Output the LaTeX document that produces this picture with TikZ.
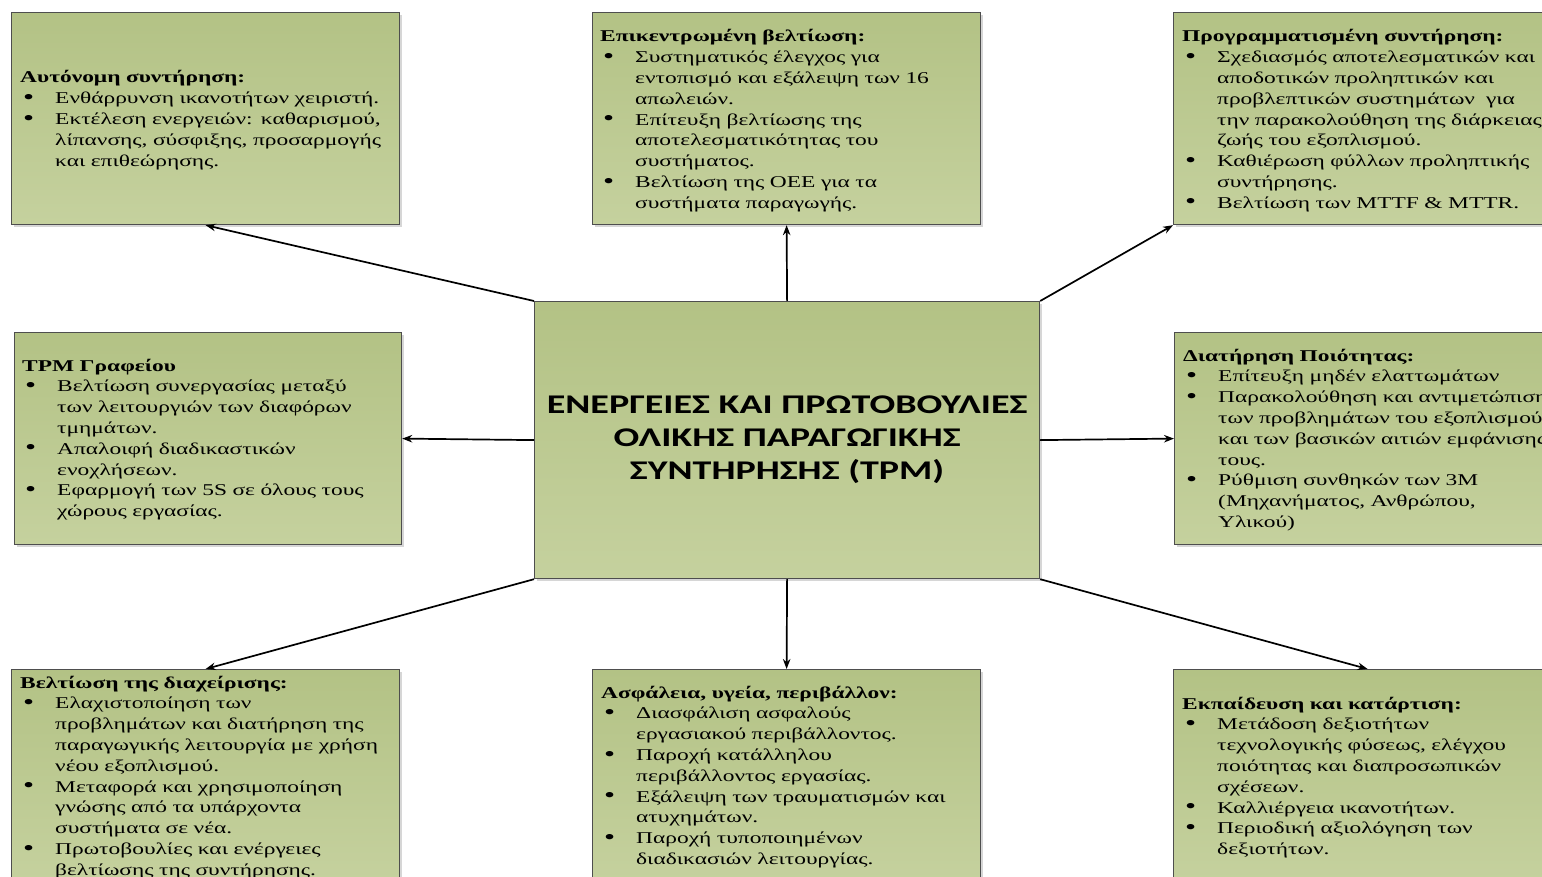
\documentclass[tikz,border=0pt]{standalone}
\usepackage{fontspec}
\setmainfont{Liberation Serif}[FakeStretch=1.42]
\newfontfamily\headfont{Carlito}[FakeStretch=1.41]
\usetikzlibrary{arrows.meta,shadows}

\definecolor{boxtop}{RGB}{179,194,133}
\definecolor{boxbot}{RGB}{197,209,158}
\definecolor{edge}{RGB}{78,78,78}

% list helpers: heading, bulleted line, continuation line
\newcommand\hd[1]{\textbf{#1}\par}
\newcommand\bu[1]{\makebox[35pt][l]{\hspace{3pt}\raisebox{-0.6pt}{\scalebox{1.35}{\textbullet}}}#1\par}
\newcommand\ct[1]{\hspace*{35pt}#1\par}

\tikzset{
  panel/.style={draw=edge, line width=1.2pt, top color=boxtop, bottom color=boxbot,
    anchor=north west, inner sep=0pt,
    drop shadow={shadow xshift=2.5pt, shadow yshift=-2.5pt, fill=black!35, opacity=0.45}},
  side/.style={panel, minimum width=388pt, minimum height=212pt},
  txt/.style={anchor=base west, inner sep=0pt, text width=600pt, align=left,
    font=\fontsize{16.5}{20.8}\selectfont},
  arr/.style={-{Stealth[length=10pt,width=7.5pt]}, line width=1.7pt, black}
}

\begin{document}
\begin{tikzpicture}[x=1pt,y=-1pt]
\clip (0,0) rectangle (1542,877);
\fill[white] (0,0) rectangle (1542,877);

% surrounding boxes
\node[side] (tl) at (11,12) {};
\node[side] (tc) at (592,12) {};
\node[side] (tr) at (1173,12) {};
\node[side, minimum width=387pt] (ml) at (14,332) {};
\node[side] (mr) at (1174,332) {};
\node[side] (bl) at (11,669) {};
\node[side] (bc) at (592,669) {};
\node[side] (br) at (1173,669) {};

% central box
\node[panel, minimum width=505pt, minimum height=277pt, align=center,
      font=\headfont\bfseries\fontsize{27}{33}\selectfont] (c) at (534,301)
  {ΕΝΕΡΓΕΙΕΣ ΚΑΙ ΠΡΩΤΟΒΟΥΛΙΕΣ\\ΟΛΙΚΗΣ ΠΑΡΑΓΩΓΙΚΗΣ\\ΣΥΝΤΗΡΗΣΗΣ (TPM)};

% box texts
\node[txt] (tlt) at (20,83) {%
\hd{Αυτόνομη συντήρηση:}
\bu{Ενθάρρυνση ικανοτήτων χειριστή.}
\bu{Εκτέλεση ενεργειών: καθαρισμού,}
\ct{λίπανσης, σύσφιξης, προσαρμογής}
\ct{και επιθεώρησης.}};

\node[txt] (tct) at (600,42) {%
\hd{Επικεντρωμένη βελτίωση:}
\bu{Συστηματικός έλεγχος για}
\ct{εντοπισμό και εξάλειψη των 16}
\ct{απωλειών.}
\bu{Επίτευξη βελτίωσης της}
\ct{αποτελεσματικότητας του}
\ct{συστήματος.}
\bu{Βελτίωση της ΟΕΕ για τα}
\ct{συστήματα παραγωγής.}};

\node[txt] (trt) at (1182,42) {%
\hd{Προγραμματισμένη συντήρηση:}
\bu{Σχεδιασμός αποτελεσματικών και}
\ct{αποδοτικών προληπτικών και}
\ct{προβλεπτικών συστημάτων\ \ για}
\ct{την παρακολούθηση της διάρκειας}
\ct{ζωής του εξοπλισμού.}
\bu{Καθιέρωση φύλλων προληπτικής}
\ct{συντήρησης.}
\bu{Βελτίωση των MTTF \& MTTR.}};

\node[txt] (mlt) at (22,371) {%
\hd{TPM Γραφείου}
\bu{Βελτίωση συνεργασίας μεταξύ}
\ct{των λειτουργιών των διαφόρων}
\ct{τμημάτων.}
\bu{Απαλοιφή διαδικαστικών}
\ct{ενοχλήσεων.}
\bu{Εφαρμογή των 5S σε όλους τους}
\ct{χώρους εργασίας.}};

\node[txt] (mrt) at (1183,361) {%
\hd{Διατήρηση Ποιότητας:}
\bu{Επίτευξη μηδέν ελαττωμάτων}
\bu{Παρακολούθηση και αντιμετώπιση}
\ct{των προβλημάτων του εξοπλισμού}
\ct{και των βασικών αιτιών εμφάνισης}
\ct{τους.}
\bu{Ρύθμιση συνθηκών των 3M}
\ct{(Μηχανήματος, Ανθρώπου,}
\ct{Υλικού)}};

\node[txt] (blt) at (20,688) {%
\hd{Βελτίωση της διαχείρισης:}
\bu{Ελαχιστοποίηση των}
\ct{προβλημάτων και διατήρηση της}
\ct{παραγωγικής λειτουργία με χρήση}
\ct{νέου εξοπλισμού.}
\bu{Μεταφορά και χρησιμοποίηση}
\ct{γνώσης από τα υπάρχοντα}
\ct{συστήματα σε νέα.}
\bu{Πρωτοβουλίες και ενέργειες}
\ct{βελτίωσης της συντήρησης.}};

\node[txt] (bct) at (601,698) {%
\hd{Ασφάλεια, υγεία, περιβάλλον:}
\bu{Διασφάλιση ασφαλούς}
\ct{εργασιακού περιβάλλοντος.}
\bu{Παροχή κατάλληλου}
\ct{περιβάλλοντος εργασίας.}
\bu{Εξάλειψη των τραυματισμών και}
\ct{ατυχημάτων.}
\bu{Παροχή τυποποιημένων}
\ct{διαδικασιών λειτουργίας.}};

\node[txt] (brt) at (1182,709) {%
\hd{Εκπαίδευση και κατάρτιση:}
\bu{Μετάδοση δεξιοτήτων}
\ct{τεχνολογικής φύσεως, ελέγχου}
\ct{ποιότητας και διαπροσωπικών}
\ct{σχέσεων.}
\bu{Καλλιέργεια ικανοτήτων.}
\bu{Περιοδική αξιολόγηση των}
\ct{δεξιοτήτων.}};

% connectors from the centre outwards
\draw[arr] (c.north west) -- (tl.south);
\draw[arr] (c.north) -- (tc.south);
\draw[arr] (c.north east) -- (tr.south west);
\draw[arr] (c.west) -- (ml.east);
\draw[arr] (c.east) -- (mr.west);
\draw[arr] (c.south west) -- (bl.north);
\draw[arr] (c.south) -- (bc.north);
\draw[arr] (c.south east) -- (br.north);
\end{tikzpicture}
\end{document}
